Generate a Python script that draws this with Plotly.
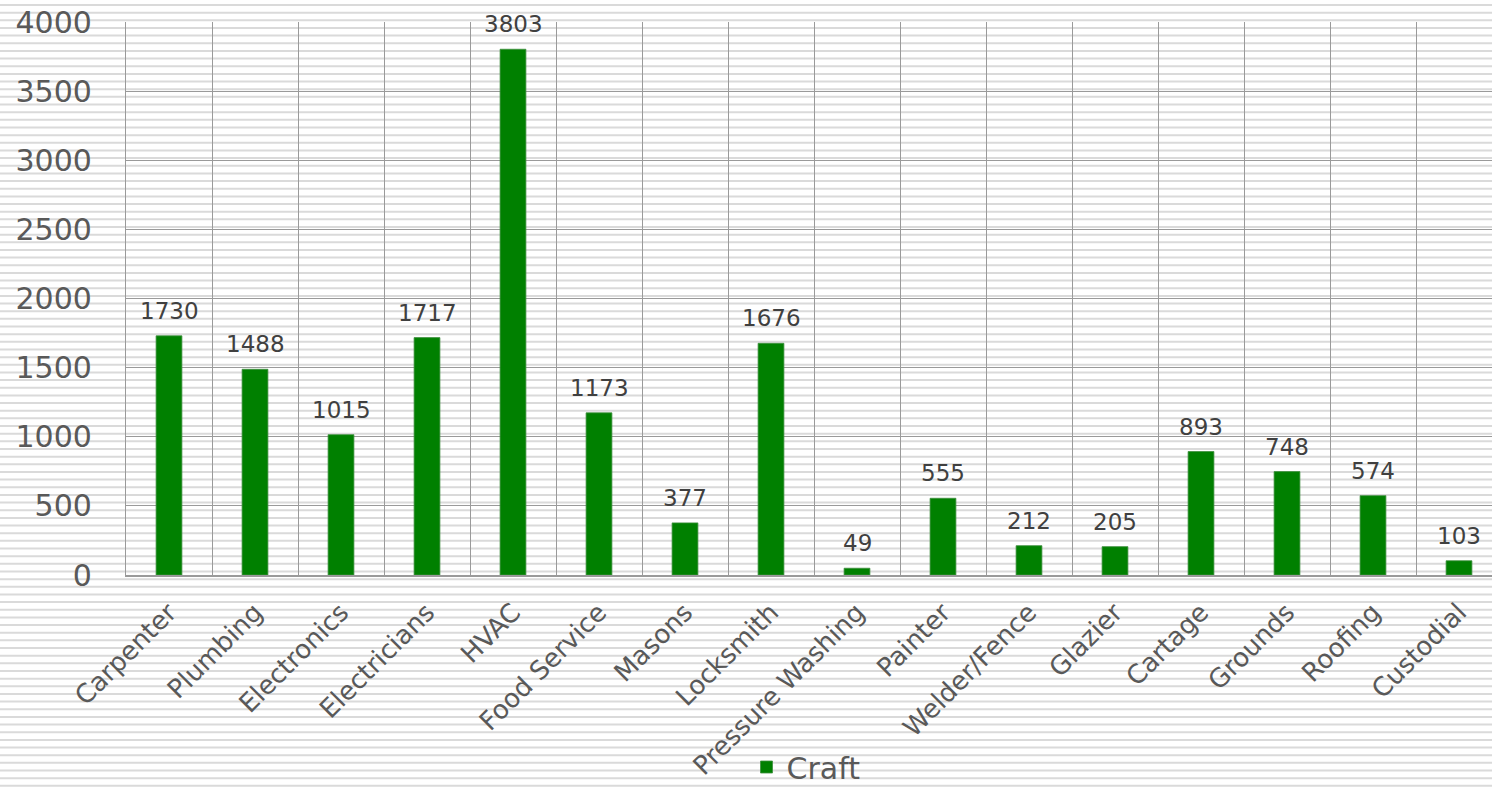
import plotly.graph_objects as go

categories = ["Carpenter", "Plumbing", "Electronics", "Electricians", "HVAC", "Food Service",
              "Masons", "Locksmith", "Pressure Washing", "Painter", "Welder/Fence", "Glazier",
              "Cartage", "Grounds", "Roofing", "Custodial"]
values = [1730, 1488, 1015, 1717, 3803, 1173, 377, 1676, 49, 555, 212, 205, 893, 748, 574, 103]
series_name = "Craft"
y_ticks = [0, 500, 1000, 1500, 2000, 2500, 3000, 3500, 4000]

W, H = 1492, 787
L, T, B = 126, 22, 212
plot_w = W - L
plot_h = H - T - B
cat_px = 86.0

GREEN = "#008000"
TEXT = "#595959"
GRID = "#9a9a9a"
FONT = "DejaVu Sans, Verdana, sans-serif"

fig = go.Figure()
fig.add_trace(go.Bar(
    x=categories, y=values, name=series_name,
    marker=dict(color=GREEN, line=dict(color="#3f8f3f", width=0.8)),
    width=0.3, showlegend=True,
))

for c, v in zip(categories, values):
    fig.add_annotation(x=c, y=v, text=str(v), showarrow=False, yanchor="bottom",
                       yshift=10, font=dict(family=FONT, size=23, color="#404040"))

# decorative horizontal stripes across whole picture
def px_to_paper_y(y):
    return (H - B - y) / plot_h

def px_to_paper_x(x):
    return (x - L) / plot_w

parts = []
y = 5.0
while y < H:
    py = px_to_paper_y(y)
    parts.append(f"M{px_to_paper_x(0):.5f},{py:.5f} L{px_to_paper_x(W):.5f},{py:.5f}")
    y += 7.655
fig.add_shape(type="path", path=" ".join(parts), xref="paper", yref="paper",
              line=dict(color="#dadada", width=2), layer="below")

fig.update_layout(
    width=W, height=H,
    margin=dict(l=L, r=0, t=T, b=B, autoexpand=False),
    paper_bgcolor="white",
    plot_bgcolor="rgba(0,0,0,0)",
    font=dict(family=FONT, color=TEXT),
    showlegend=True,
    legend=dict(orientation="h", x=px_to_paper_x(806), xanchor="center",
                y=px_to_paper_y(767), yanchor="middle",
                font=dict(size=30, color=TEXT), bgcolor="rgba(0,0,0,0)"),
    bargap=0.7,
)
fig.update_xaxes(
    type="category",
    range=[-0.5, -0.5 + plot_w / cat_px],
    tickson="boundaries",
    showgrid=True, gridcolor=GRID, gridwidth=1.3,
    showline=True, linecolor=GRID, linewidth=1.5,
    ticks="", tickangle=-45,
    tickfont=dict(size=26, color=TEXT, family=FONT),
    ticklabelstandoff=10,
    automargin=False,
)
fig.update_yaxes(
    range=[0, 4000],
    tickvals=y_ticks,
    showgrid=True, gridcolor=GRID, gridwidth=1.3,
    showline=True, linecolor=GRID, linewidth=1.3,
    zeroline=False,
    ticks="",
    tickfont=dict(size=30, color=TEXT, family=FONT),
    ticklabelstandoff=27,
    automargin=False,
)

fig.write_html("out.html")
